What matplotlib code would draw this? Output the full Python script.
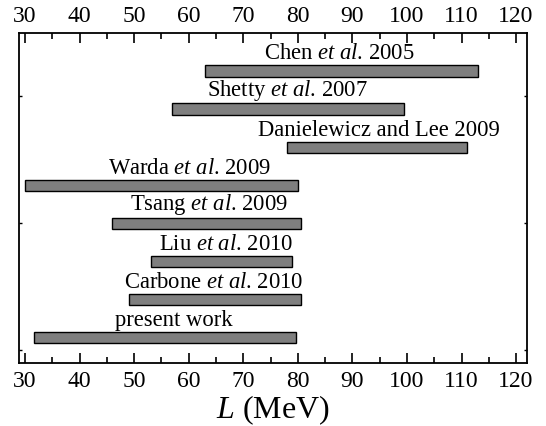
import numpy as np
import matplotlib
matplotlib.use("Agg")
import matplotlib.pyplot as plt
from matplotlib.ticker import MultipleLocator

plt.rcParams['font.family'] = 'serif'
plt.rcParams['font.serif'] = ['Liberation Serif']
plt.rcParams['mathtext.fontset'] = 'custom'
plt.rcParams['mathtext.rm'] = 'Liberation Serif'
plt.rcParams['mathtext.it'] = 'Liberation Serif:italic'

# constraints on L (MeV), top to bottom
labels = ["Chen $\\mathit{et\\ al}$. 2005",
          "Shetty $\\mathit{et\\ al}$. 2007",
          "Danielewicz and Lee 2009",
          "Warda $\\mathit{et\\ al}$. 2009",
          "Tsang $\\mathit{et\\ al}$. 2009",
          "Liu $\\mathit{et\\ al}$. 2010",
          "Carbone $\\mathit{et\\ al}$. 2010",
          "present work"]
L_low = [63, 57, 78, 30, 46, 53, 49, 31.7]
L_high = [113, 99.5, 111, 80, 80.5, 79, 80.6, 79.6]
xticks = [30, 40, 50, 60, 70, 80, 90, 100, 110, 120]

# label centres (layout only)
label_x = [87.6, 78.0, 94.9, 60.2, 63.7, 66.9, 64.6, 57.3]

fig = plt.figure(figsize=(5.46, 4.27), dpi=100)
ax = fig.add_axes([19/546, 1 - 364/427, (527-19)/546, (364-34)/427])

n = len(labels)
ypos = 3 * np.arange(n, 0, -1)
lo = np.array(L_low)
hi = np.array(L_high)
ax.barh(ypos, hi - lo, left=lo, height=0.9, color='#7f7f7f',
        edgecolor='black', linewidth=1.0)

for y, lab, lx in zip(ypos, labels, label_x):
    ax.text(lx, y + 0.6, lab, ha='center', va='bottom', fontsize=16.3)

ax.set_xlim(28.9, 122)
ax.set_ylim(1, 27)
ax.set_xticks(xticks)
ax.set_xticklabels([str(v) for v in xticks], fontfamily='Liberation Serif',
                   fontsize=17)
ax.xaxis.set_minor_locator(MultipleLocator(5))
ax.set_yticks([2, 12, 22])
ax.set_yticklabels([])
ax.tick_params(axis='x', which='both', direction='in', top=True, bottom=True,
               labeltop=True, width=1.2, pad=5)
ax.tick_params(axis='x', which='major', length=7)
ax.tick_params(axis='x', which='minor', length=4)
ax.tick_params(axis='y', direction='in', left=True, right=True, length=2, width=1)
for s in ax.spines.values():
    s.set_linewidth(1.3)

ax.set_xlabel("$L$ (MeV)", fontsize=23, labelpad=1)

fig.savefig("out.png", dpi=100)
